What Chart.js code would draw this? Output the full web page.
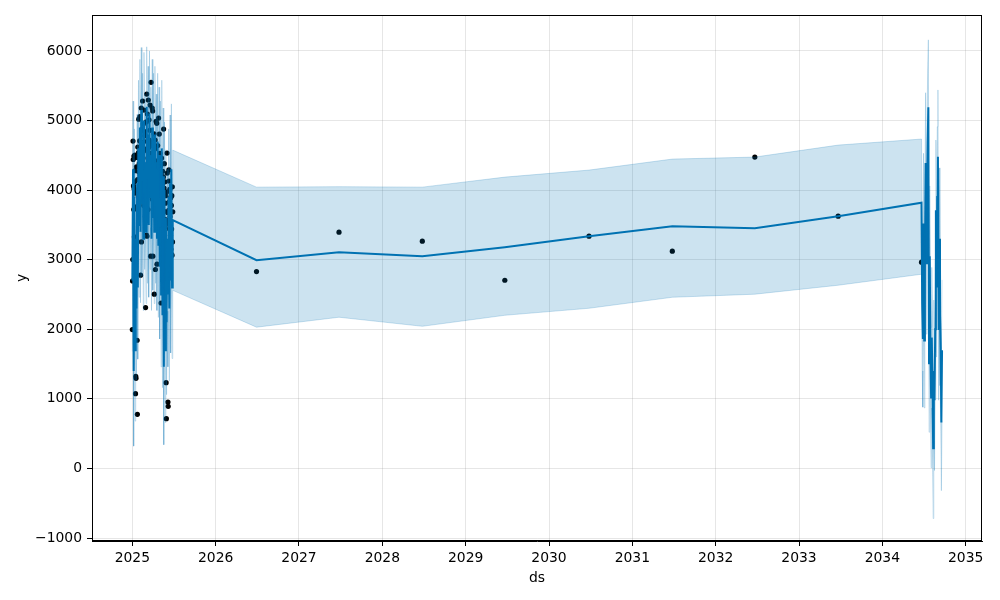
<!DOCTYPE html>
<html>
<head>
<meta charset="utf-8">
<script src="https://cdn.jsdelivr.net/npm/chart.js@4/dist/chart.umd.min.js"></script>
<style>
  html, body { margin: 0; padding: 0; background: #fff; }
  #wrap { width: 1000px; height: 600px; }
</style>
</head>
<body>
<div id="wrap"><canvas id="grafico" width="1000" height="600"></canvas></div>
<script>
// history 2025: one observed value per day from Jan 1
const histY2025 = [1996, 2695, 3003, 4705, 4440, 4060, 3720, 4490, 4020, 3328,
    4120, 4504, 3957, 4280, 1075, 1324, 1295, 3760, 4335, 3281,
    4470, 1842, 777, 4150, 4620, 3980, 3910, 4540, 5020, 4260,
    4380, 3870, 4710, 5055, 4440, 4210, 2777, 4080, 4690, 5180,
    3256, 4520, 4870, 4010, 4630, 5281, 4390, 4120, 4950, 4560,
    3780, 5151, 4270, 3890, 4840, 4780, 4160, 3620, 2312, 4590,
    4350, 4980, 3353, 5381, 3338, 4700, 5094, 4230, 4460, 3720,
    5295, 4610, 3980, 5010, 4720, 4400, 4150, 4860, 5223, 3940,
    3050, 4530, 5550, 4680, 4310, 4060, 4640, 5180, 3870, 5137,
    3050, 4250, 4480, 3790, 4020, 4810, 2504, 4130, 4590, 3960,
    4719, 2859, 4420, 4240, 4990, 3760, 4330, 4960, 2935, 4160,
    4380, 4640, 3690, 4270, 3850, 5036, 4420, 4080, 4806, 3720,
    4150, 4530, 3820, 4350, 3980, 3233, 2378, 4210, 4460, 3540,
    3610, 4080, 3830, 4270, 3360, 3950, 4190, 4878, 3700, 4030,
    4380, 3260, 3580, 4120, 3470, 3813, 2777, 3920, 1233, 715,
    3568, 3976, 4532, 4245, 3680, 3240, 954, 892, 3520, 3710,
    4290, 4130, 3830, 3440, 4010, 3620, 2964, 3350, 3890, 3150,
    3079, 3780, 3440, 3920, 3065, 4047, 3256, 3688];

// yearly observations
const yearDates = [2026.49, 2027.48, 2028.48, 2029.47, 2030.48, 2031.48, 2032.47, 2033.47, 2034.47];
const yearY = [2830, 3396, 3266, 2705, 3338, 3122, 4475, 3626, 2964];

// forecast over 2025 (every 3 days)
const fcDays2025 = [0, 3, 6, 9, 12, 15, 18, 21, 24, 27, 30, 33, 36, 39, 42, 45, 48, 51, 54, 57,
    60, 63, 66, 69, 72, 75, 78, 81, 84, 87, 90, 93, 96, 99, 102, 105, 108, 111, 114, 117,
    120, 123, 126, 129, 132, 135, 138, 141, 144, 147, 150, 153, 156, 159, 162, 165, 168, 171, 174, 177];
const yhat2025 = [2700, 4300, 1400, 3900, 1700, 3300, 2300, 4100, 2600, 4600, 3500, 4900, 3400, 5150, 3800, 4700, 3300, 5000, 3900, 4400,
    3400, 5200, 3700, 4800, 3500, 5100, 3900, 4500, 3300, 4900, 3600, 4700, 3400, 4800, 3700, 4400, 3300, 4700, 3200, 4500,
    2900, 4300, 2500, 4600, 2200, 4200, 1460, 4000, 1700, 3600, 2100, 3300, 2500, 3900, 2300, 4100, 2700, 4300, 2600, 3570];
const lower2025 = [1680, 3270, 320, 2880, 680, 2260, 1270, 3060, 1570, 3560, 2460, 3860, 2380, 4120, 2760, 3660, 2270, 3960, 2860, 3360,
    2370, 4150, 2660, 3760, 2460, 4070, 2860, 3460, 2270, 3860, 2560, 3660, 2370, 3760, 2660, 3360, 2270, 3660, 2170, 3460,
    1860, 3260, 1460, 3560, 1160, 3160, 340, 2960, 660, 2560, 1060, 2260, 1460, 2860, 1260, 3060, 1660, 3260, 1580, 2560];
const upper2025 = [3700, 5280, 2350, 4880, 2690, 4300, 3250, 5090, 3580, 5580, 4480, 5880, 4400, 6050, 4780, 5680, 4290, 5980, 4880, 5380,
    4390, 6060, 4690, 5780, 4480, 6000, 4880, 5480, 4300, 5880, 4580, 5680, 4400, 5780, 4680, 5380, 4290, 5680, 4190, 5480,
    3900, 5280, 3490, 5580, 3200, 5180, 2460, 4980, 2700, 4580, 3080, 4300, 3480, 4880, 3300, 5080, 3690, 5240, 3600, 4575];

// forecast at the yearly dates (last one opens the final block)
const yhatYear = [2993, 3108, 3050, 3180, 3338, 3482, 3453, 3626];
const lowerYear = [2030, 2173, 2043, 2201, 2302, 2460, 2504, 2633];
const upperYear = [4043, 4050, 4043, 4187, 4288, 4446, 4475, 4647];

// final forecast block, days after the last yearly date
const fcDaysEnd = [0, 3, 6, 9, 12, 15, 18, 21, 24, 27, 30, 33, 36, 39, 42, 45, 48, 51, 54, 57, 60, 63, 66, 69, 72, 75, 78, 81, 84, 87, 90];
const yhatEnd = [3820, 2370, 1860, 3520, 1840, 2950, 4390, 2950, 3900, 4700, 5190, 1510, 3050, 1890, 1020, 1880, 1250, 290, 1400, 980,
    2000, 3710, 2600, 3900, 4480, 1990, 3300, 2200, 1740, 660, 1700];
const lowerEnd = [2791, 1400, 880, 2510, 870, 1960, 3380, 1930, 2900, 3690, 4200, 520, 2030, 880, 10, 870, 240, -720, 390, -30,
    990, 2700, 1600, 2880, 3470, 980, 2290, 1190, 730, -320, 690];
const upperEnd = [4734, 3380, 2890, 4530, 2850, 3970, 5400, 3960, 4930, 5720, 6160, 2520, 4060, 2900, 2030, 2890, 2270, 1300, 2420, 2000,
    3010, 4720, 3610, 4910, 5440, 3000, 4320, 3210, 2760, 1680, 2710];

const xTicks = [2025, 2026, 2027, 2028, 2029, 2030, 2031, 2032, 2033, 2034, 2035];
const yTicks = [-1000, 0, 1000, 2000, 3000, 4000, 5000, 6000];

const AZUL = '#0072B2';
const BANDA = 'rgba(0, 114, 178, 0.2)';
const GRILLA = 'rgba(128, 128, 128, 0.2)';
const fuente = { family: 'DejaVu Sans', size: 13.9 };

function puntos(fechas, valores) {
    return fechas.map((x, i) => ({ x: x, y: valores[i] }));
}

const inicioFinal = yearDates[yearDates.length - 1];
const fechas2025 = fcDays2025.map(d => 2025 + d / 365);
const fechasFinal = fcDaysEnd.map(d => inicioFinal + d / 365);
const fechasForecast = fechas2025.concat(yearDates.slice(0, -1), fechasFinal);
const fechasHist = histY2025.map((v, i) => 2025 + i / 365).concat(yearDates);

const serieYhat = puntos(fechasForecast, yhat2025.concat(yhatYear, yhatEnd));
const serieLower = puntos(fechasForecast, lower2025.concat(lowerYear, lowerEnd));
const serieUpper = puntos(fechasForecast, upper2025.concat(upperYear, upperEnd));
const serieHist = puntos(fechasHist, histY2025.concat(yearY));

// marco negro alrededor del area del grafico
const marco = {
    id: 'marco',
    afterDatasetsDraw(chart) {
        const a = chart.chartArea;
        const ctx = chart.ctx;
        ctx.save();
        ctx.strokeStyle = '#000';
        ctx.lineWidth = 1;
        ctx.strokeRect(Math.round(a.left) + 0.5, Math.round(a.top) + 0.5, Math.round(a.right - a.left) - 1, Math.round(a.bottom - a.top) - 1);
        ctx.restore();
    }
};

new Chart(document.getElementById('grafico').getContext('2d'), {
    type: 'line',
    data: {
        datasets: [
            { label: 'y', data: serieHist, showLine: false, pointRadius: 2.6, pointBackgroundColor: '#000', pointBorderWidth: 0, order: 3 },
            { label: 'yhat', data: serieYhat, borderColor: AZUL, borderWidth: 2, pointRadius: 0, fill: false, order: 2 },
            { label: 'lower', data: serieLower, borderColor: BANDA, borderWidth: 1, pointRadius: 0, fill: false, order: 1 },
            { label: 'upper', data: serieUpper, borderColor: BANDA, borderWidth: 1, pointRadius: 0, fill: 2, backgroundColor: BANDA, order: 0 }
        ]
    },
    options: {
        responsive: false,
        animation: false,
        devicePixelRatio: 1,
        layout: { padding: { left: 0, right: 18, top: 15, bottom: 0 } },
        plugins: { legend: { display: false }, tooltip: { enabled: false } },
        elements: { line: { tension: 0 } },
        scales: {
            x: {
                type: 'linear',
                min: 2024.516,
                max: 2035.196,
                afterBuildTicks: s => { s.ticks = xTicks.map(v => ({ value: v })); },
                afterFit: s => { s.height = 59; },
                ticks: { color: '#000', font: fuente, padding: 4, maxRotation: 0, callback: v => String(v) },
                grid: { color: GRILLA, lineWidth: 1, tickColor: '#000', tickLength: 5 },
                border: { display: true, color: '#000' },
                title: { display: true, text: 'ds', color: '#000', font: fuente, padding: { top: 0, bottom: 13 } }
            },
            y: {
                min: -1043,
                max: 6517,
                afterBuildTicks: s => { s.ticks = yTicks.map(v => ({ value: v })); },
                afterFit: s => { s.width = 92; },
                ticks: { color: '#000', font: fuente, padding: 5, callback: v => v < 0 ? '\u2212' + Math.abs(v) : String(v) },
                grid: { color: GRILLA, lineWidth: 1, tickColor: '#000', tickLength: 5 },
                border: { display: true, color: '#000' },
                title: { display: true, text: 'y', color: '#000', font: fuente, padding: { top: 14, bottom: 0 } }
            }
        }
    },
    plugins: [marco]
});
</script>
</body>
</html>
